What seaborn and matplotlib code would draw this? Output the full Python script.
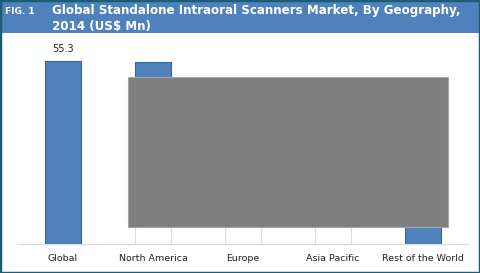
import matplotlib
matplotlib.use("Agg")
import matplotlib.pyplot as plt
import matplotlib.patches as mpatches
import seaborn as sns
import pandas as pd

categories = ["Global", "North America", "Europe", "Asia Pacific", "Rest of the World"]
values = [55.3, 55.0, 14.2, 8.6, 6.1]
label_text = "55.3"
fig_label = "FIG. 1"
title = "Global Standalone Intraoral Scanners Market, By Geography,\n2014 (US$ Mn)"

sns.set_theme(style="white")
plt.rcParams['font.family'] = ['DejaVu Sans']

W, H = 480, 273
fig = plt.figure(figsize=(W / 100, H / 100), dpi=100)
fig.patch.set_facecolor("white")

def fx(px): return px / W
def fy(py): return 1 - py / H

ax = fig.add_axes([fx(18), fy(244), fx(468) - fx(18), fy(40) - fy(244)])
df = pd.DataFrame({"cat": categories, "val": values})
blue = "#4f81bd"
sns.barplot(data=df, x="cat", y="val", order=categories, color=blue, width=0.4,
            saturation=1, edgecolor="#3a659a", linewidth=0.8, ax=ax)
for p in ax.patches:
    p.set_zorder(2)

# hidden region under the grey box: whitened, with faint outlines
white = mpatches.Rectangle((fx(128), fy(244)), fx(400) - fx(128), fy(227) - fy(244),
                           transform=fig.transFigure, facecolor="white",
                           edgecolor="none", zorder=3, clip_on=False)
ax.add_patch(white)
sub = df[df["cat"].isin(["North America", "Europe", "Asia Pacific"])]
n_before = len(ax.patches)
sns.barplot(data=sub, x="cat", y="val", order=categories, width=0.4,
            fill=False, color="#dcdcdc", linewidth=0.8, ax=ax)
for p in ax.patches[n_before:]:
    p.set_zorder(4)
    p.set_edgecolor("#dcdcdc")
    p.set_facecolor("none")
    p.set_clip_path(white)

ax.text(0, values[0] + 2.2, label_text, ha="center", va="bottom", fontsize=7,
        color="#222222", zorder=6)

ax.set_xlim(-0.5, 4.5)
ax.set_ylim(0, 61.6)
ax.set_xlabel("")
ax.set_ylabel("")
ax.set_yticks([])
ax.tick_params(axis="x", length=0, labelsize=6.8, colors="#222222", pad=7)
for s in ["top", "right", "left"]:
    ax.spines[s].set_visible(False)
ax.spines["bottom"].set_color("#d9d9d9")
ax.spines["bottom"].set_linewidth(0.8)
ax.spines["bottom"].set_zorder(5)

# grey overlay box
ax.add_patch(mpatches.Rectangle((fx(128), fy(227)), fx(448) - fx(128), fy(76.5) - fy(227),
                                transform=fig.transFigure, facecolor="#7f7f7f",
                                edgecolor="#a6a6a6", linewidth=0.8, zorder=7, clip_on=False))

# header band
fig.patches.append(mpatches.Rectangle((0, fy(33)), 1, 33 / H, transform=fig.transFigure,
                                      facecolor="#4f81bd", edgecolor="none", zorder=0))
fig.text(fx(5), fy(12), fig_label, color="white", fontsize=6.5, fontweight="bold",
         va="center", ha="left")
fig.text(fx(52), fy(4), title, color="white", fontsize=8.6, fontweight="bold",
         va="top", ha="left", linespacing=1.3)

# outer border
fig.patches.append(mpatches.Rectangle((0, 0), 1, 1, transform=fig.transFigure,
                                      facecolor="none", edgecolor="#1b5e74",
                                      linewidth=2.5, zorder=10))

fig.savefig("out.png", dpi=100)
